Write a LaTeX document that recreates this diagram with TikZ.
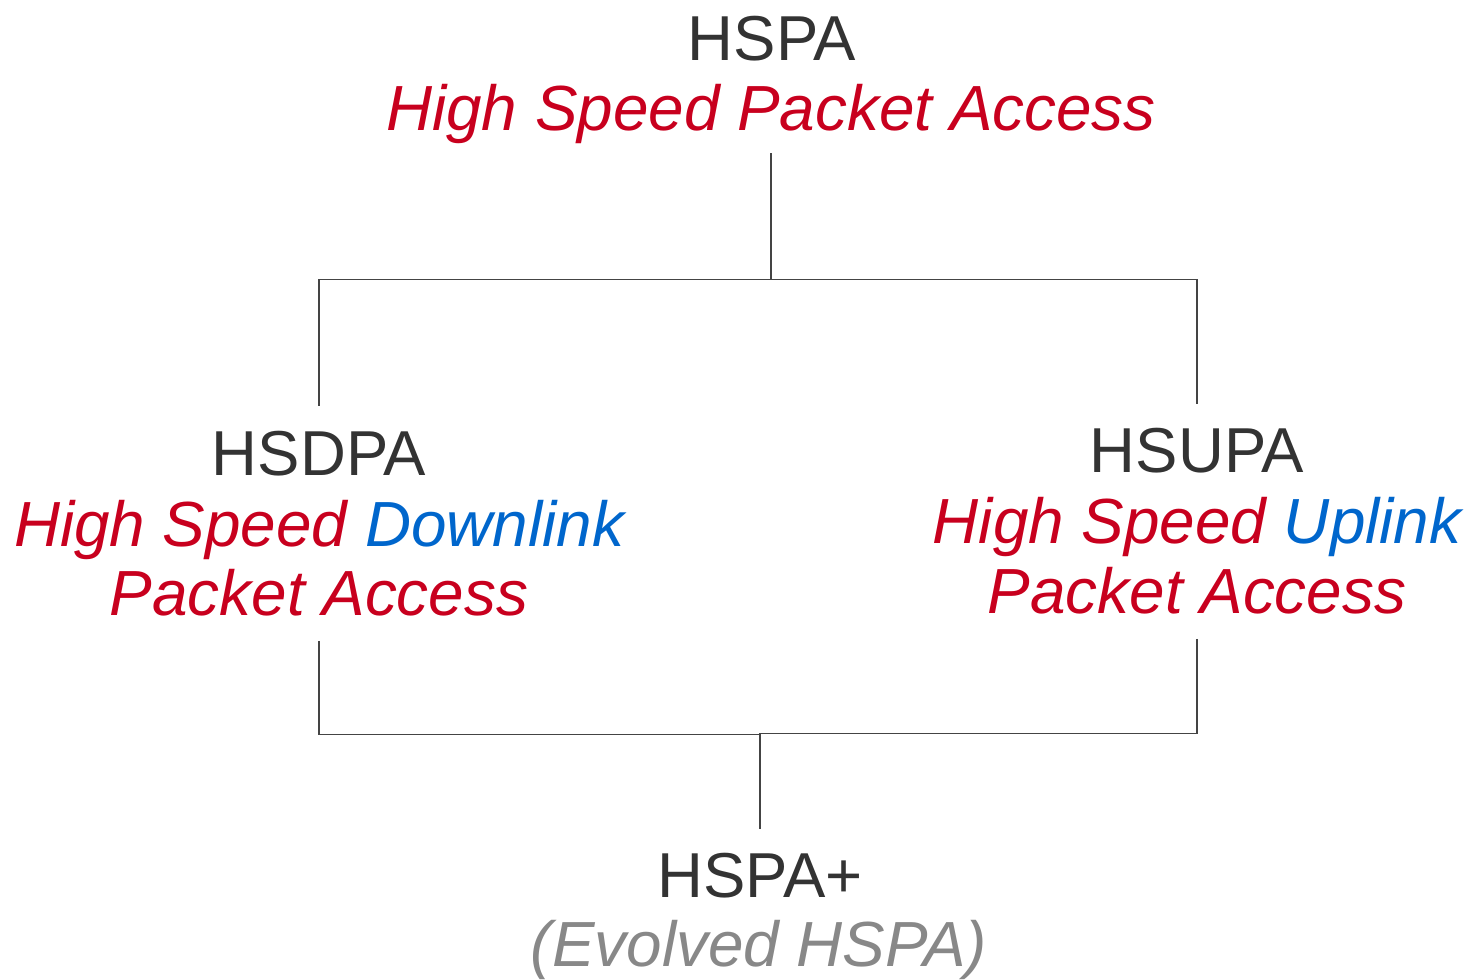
\documentclass[tikz,border=0pt]{standalone}
\usepackage{fontspec}
\setmainfont{Liberation Sans}
\definecolor{txt}{HTML}{333333}
\definecolor{rd}{HTML}{C8001E}
\definecolor{bl}{HTML}{0066CC}
\definecolor{gr}{HTML}{888888}
\definecolor{ln}{HTML}{444444}
\begin{document}
\begin{tikzpicture}[x=1pt,y=-1pt,
  title/.style={anchor=base, inner sep=0pt, text=txt, font=\fontsize{63.5}{63.5}\selectfont},
  sub/.style={anchor=base, inner sep=0pt, text=rd, font=\fontsize{63.8}{63.8}\selectfont\itshape},
  conn/.style={draw=ln, line width=1.3pt}]
\useasboundingbox (0,0) rectangle (1473,980);
\node[title] (hspa) at (772,60) {HSPA};
\node[sub, inner ysep=10pt] (hspasub) at (771,130) {High Speed Packet Access};
\node[title, inner ysep=24pt] (hsdpa) at (319,475) {HSDPA};
\node[sub] (dl1) at (319,546) {High Speed \textcolor{bl}{Downlink}};
\node[sub, inner ysep=25pt] (dl2) at (319,615) {Packet Access};
\node[title, inner ysep=23pt] (hsupa) at (1197,472) {HSUPA};
\node[sub] (ul1) at (1197,543) {High Speed \textcolor{bl}{Uplink}};
\node[sub, inner ysep=25pt] (ul2) at (1197,613) {Packet Access};
\node[title, inner ysep=23pt] (hspap) at (760,897) {HSPA+};
\node[sub, text=gr] (evo) at (759,966) {(Evolved HSPA)};
\draw[conn] (hspasub.south) -- ++(0,126) coordinate (j1) -| (hsdpa.north);
\draw[conn] (j1) -| (hsupa.north);
\draw[conn] (dl2.south) -- ++(0,94) -| (hspap.north);
\draw[conn] (ul2.south) -- ++(0,95) -| (hspap.north);
\end{tikzpicture}
\end{document}
